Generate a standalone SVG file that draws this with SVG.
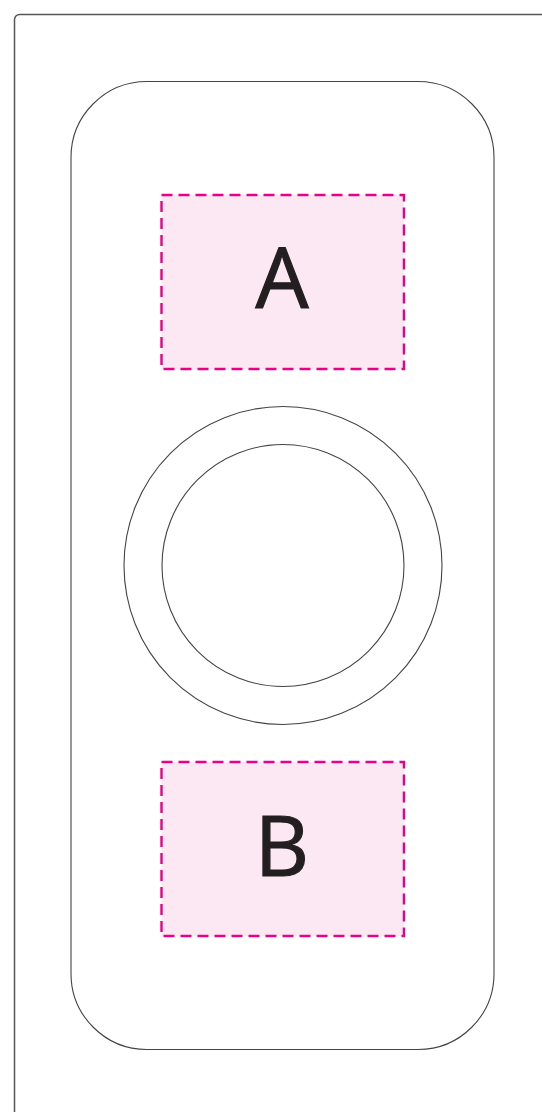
<svg xmlns="http://www.w3.org/2000/svg" width="542" height="1112" viewBox="0 0 542 1112">
<style>
.frame{fill:none;stroke:#555;stroke-width:1.5}
.line{fill:none;stroke:#444;stroke-width:1.1}
.zone{fill:#fce8f2;stroke:#e8008a;stroke-width:2.4;stroke-dasharray:11 6}
.lbl{font-family:"Open Sans","Liberation Sans",sans-serif;font-size:84px;font-weight:400;fill:#231f20;stroke:#231f20;stroke-width:1.2;text-anchor:middle}
</style>
<rect class="frame" x="14.5" y="14.5" width="560" height="1130" rx="5"/>
<g id="body"><rect class="line" x="71" y="81.5" width="423" height="968" rx="76"/></g>
<g id="zoneA"><rect class="zone" x="161.5" y="195" width="242.5" height="174"/><text class="lbl" x="282" y="308">A</text></g>
<g id="ring">
<circle class="line" cx="283" cy="565.5" r="159"/>
<circle class="line" cx="283" cy="565.5" r="121"/>
</g>
<g id="zoneB"><rect class="zone" x="161.5" y="762" width="242.5" height="174"/><text class="lbl" x="282" y="876">B</text></g>
<g id="connectors"/>
</svg>
